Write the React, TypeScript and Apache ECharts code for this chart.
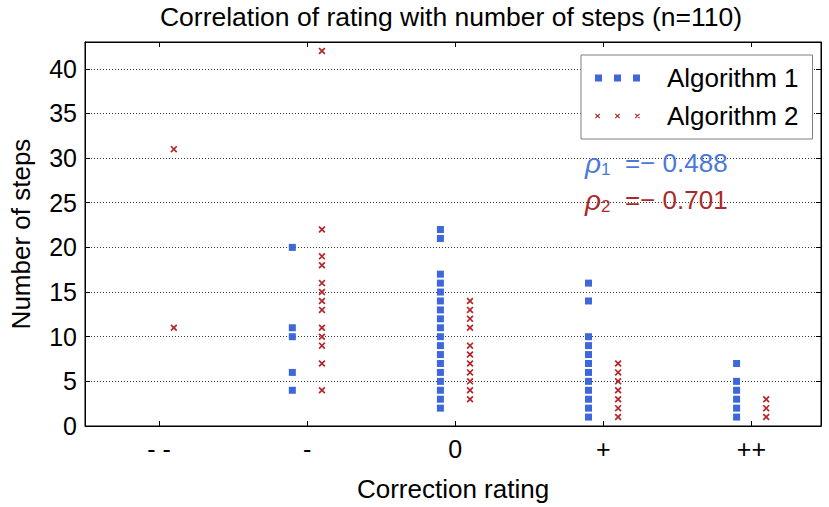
import React, { useEffect, useRef } from "react";
import * as echarts from "echarts";

const categories = ["- -", "-", "0", "+", "++"];
const categoryPositions = [1, 2, 3, 4, 5];
const yTickLabels = [0, 5, 10, 15, 20, 25, 30, 35, 40];

// Number of steps per rating category (distinct visible values)
const algorithm1Values: number[][] = [
  [],
  [20, 11, 10, 6, 4],
  [22, 21, 17, 16, 15, 14, 13, 12, 11, 10, 9, 8, 7, 6, 5, 4, 3, 2],
  [16, 14, 10, 9, 8, 7, 6, 5, 4, 3, 2, 1],
  [7, 5, 4, 3, 2, 1],
];
const algorithm2Values: number[][] = [
  [31, 11],
  [42, 22, 19, 18, 16, 15, 14, 13, 11, 10, 9, 7, 4],
  [14, 13, 12, 11, 9, 8, 7, 6, 5, 4, 3],
  [7, 6, 5, 4, 3, 2, 1],
  [3, 2, 1],
];
const rho1 = "− 0.488";
const rho2 = "− 0.701";

const BLUE = "#3e67db";
const RED = "#b3262a";
const FONT = "Liberation Sans, Arial, Helvetica, sans-serif";

const CROSS = "path://M0,1.2L1.2,0L7,5.8L5.8,7ZM5.8,0L7,1.2L1.2,7L0,5.8Z";
const LEGEND_SQUARES = "path://M0,0h7v7h-7zM19,0h7v7h-7zM38,0h7v7h-7z";
const LEGEND_CROSSES =
  "path://M1,1.8L1.8,1L6,5.2L5.2,6ZM5.2,1L6,1.8L1.8,6L1,5.2Z" +
  "M20,1.8L20.8,1L25,5.2L24.2,6ZM24.2,1L25,1.8L20.8,6L20,5.2Z" +
  "M39,1.8L39.8,1L44,5.2L43.2,6ZM43.2,1L44,1.8L39.8,6L39,5.2Z";

function toPoints(values: number[][], offset: number): number[][] {
  const pts: number[][] = [];
  values.forEach((list, i) => {
    list.forEach((v) => pts.push([categoryPositions[i] + offset, v]));
  });
  return pts;
}

export default function App() {
  const ref = useRef<HTMLDivElement>(null);
  useEffect(() => {
    if (!ref.current) return;
    const chart = echarts.init(ref.current, null, { renderer: "svg" });
    const axisLine = { show: true, onZero: false, lineStyle: { color: "#000", width: 1 } };
    const rich = (color: string) => ({
      r: { fontFamily: FONT, fontSize: 28, fontStyle: "italic", lineHeight: 30, fill: color, color },
      s: { fontFamily: FONT, fontSize: 17, verticalAlign: "bottom", lineHeight: 17, fill: color, color },
      t: { fontFamily: FONT, fontSize: 26, lineHeight: 30, fill: color, color },
    });
    chart.setOption({
      animation: false,
      backgroundColor: "#fff",
      textStyle: { fontFamily: FONT },
      title: {
        text: "Correlation of rating with number of steps (n=110)",
        left: 451,
        top: 3,
        textAlign: "center",
        padding: 0,
        textStyle: { fontFamily: FONT, fontSize: 26.5, fontWeight: "normal", color: "#000" },
      },
      grid: {
        left: 79,
        right: 8,
        top: 42,
        bottom: 80,
        containLabel: false,
        show: true,
        borderColor: "#000",
        borderWidth: 1,
        backgroundColor: "transparent",
      },
      legend: {
        orient: "vertical",
        left: 581,
        top: 55,
        padding: [10, 14, 10, 14],
        itemGap: 12,
        itemWidth: 45,
        itemHeight: 7,
        backgroundColor: "#fff",
        borderColor: "#808080",
        borderWidth: 1,
        borderRadius: 0,
        textStyle: { fontFamily: FONT, fontSize: 26, lineHeight: 26, color: "#000", padding: [0, 0, 0, 22] },
        data: [
          { name: "Algorithm 1", icon: LEGEND_SQUARES },
          { name: "Algorithm 2", icon: LEGEND_CROSSES },
        ],
      },
      xAxis: [
        {
          type: "value",
          position: "bottom",
          min: 0.5,
          max: 5.47,
          name: "Correction rating",
          nameLocation: "middle",
          nameGap: 50,
          nameTextStyle: { fontFamily: FONT, fontSize: 26, color: "#000" },
          axisLine,
          splitLine: { show: false },
          axisTick: { show: true, inside: true, length: 5, customValues: categoryPositions, lineStyle: { color: "#000" } },
          axisLabel: {
            show: true,
            customValues: categoryPositions,
            margin: 10,
            fontFamily: FONT,
            fontSize: 25,
            color: "#000",
            formatter: (v: number) => categories[Math.round(v) - 1] ?? "",
          },
        },
        {
          type: "value",
          position: "top",
          min: 0.5,
          max: 5.47,
          axisLine,
          splitLine: { show: false },
          axisTick: { show: true, inside: true, length: 5, customValues: categoryPositions, lineStyle: { color: "#000" } },
          axisLabel: { show: false },
        },
      ],
      yAxis: [
        {
          type: "value",
          position: "left",
          min: 0,
          max: 43,
          interval: 5,
          name: "Number of steps",
          nameLocation: "middle",
          nameGap: 51,
          nameTextStyle: { fontFamily: FONT, fontSize: 26, color: "#000" },
          axisLine,
          axisTick: { show: true, inside: true, length: 5, lineStyle: { color: "#000" } },
          axisLabel: {
            margin: 8,
            fontFamily: FONT,
            fontSize: 25,
            color: "#000",
            formatter: (v: number) => (yTickLabels.includes(v) ? String(v) : ""),
          },
          splitLine: { show: true, lineStyle: { color: "#333", width: 1, type: [1, 2] } },
        },
        {
          type: "value",
          position: "right",
          min: 0,
          max: 43,
          interval: 5,
          axisLine,
          axisTick: { show: true, inside: true, length: 5, lineStyle: { color: "#000" } },
          axisLabel: { show: false },
          splitLine: { show: false },
        },
      ],
      series: [
        {
          name: "Algorithm 1",
          type: "scatter",
          xAxisIndex: 0,
          yAxisIndex: 0,
          symbol: "rect",
          symbolSize: 7,
          itemStyle: { color: BLUE, opacity: 1 },
          data: toPoints(algorithm1Values, -0.1),
          z: 3,
        },
        {
          name: "Algorithm 2",
          type: "scatter",
          xAxisIndex: 0,
          yAxisIndex: 0,
          symbol: CROSS,
          symbolSize: 7,
          itemStyle: { color: RED, opacity: 1 },
          data: toPoints(algorithm2Values, 0.1),
          z: 3,
        },
      ],
      graphic: [
        {
          type: "text",
          x: 585,
          y: 163,
          z: 10,
          style: {
            text: `{r|ρ}{s|1}{t|  =${rho1}}`,
            rich: rich("#4a78d8"),
            verticalAlign: "middle",
            fill: "#4a78d8",
          },
        },
        {
          type: "text",
          x: 585,
          y: 200,
          z: 10,
          style: {
            text: `{r|ρ}{s|2}{t|  =${rho2}}`,
            rich: rich("#aa2a2a"),
            verticalAlign: "middle",
            fill: "#aa2a2a",
          },
        },
      ],
    });
    return () => chart.dispose();
  }, []);
  return (
    <div
      ref={ref}
      style={{ position: "fixed", left: 0, top: 0, width: 829, height: 507 }}
    />
  );
}
